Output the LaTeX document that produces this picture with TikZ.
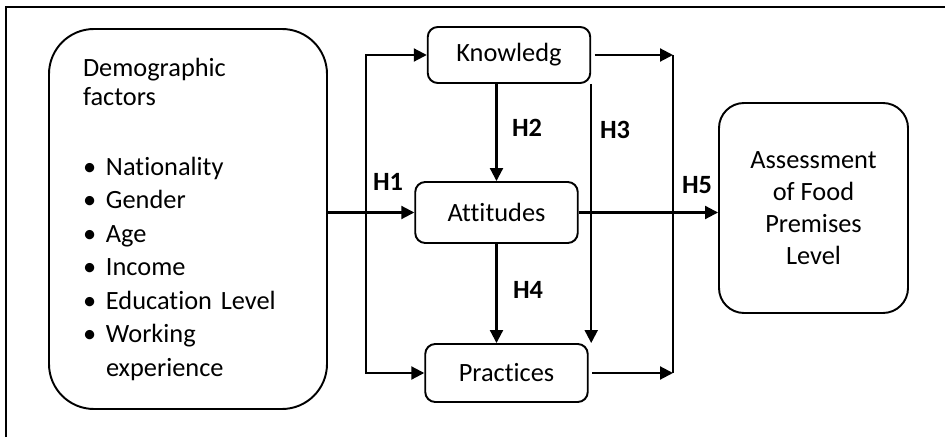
\documentclass[tikz,border=0pt]{standalone}
\usepackage{fontspec}
\setmainfont{Carlito}[Ligatures=NoCommon]
\usetikzlibrary{positioning, arrows.meta}
\tikzset{
every node/.style={font=\fontsize{15pt}{19pt}\selectfont},
rbox/.style={draw, line width=1.1pt, rounded corners=0.2cm, minimum width=3.25cm, minimum height=1.16cm},
bigbox/.style={draw, line width=1.1pt},
hlabel/.style={font=\fontsize{15pt}{19pt}\selectfont\bfseries},
arr/.style={line width=1.2pt, -{Triangle[length=0.26cm, width=0.26cm]}},
}
\newcommand{\itm}{\makebox[0.46cm][l]{\textbullet}}

\begin{document}
\begin{tikzpicture}
    \useasboundingbox (0,0) rectangle (18.9,8.74);

    % outer frame
    \draw[line width=1.4pt] (0.12,0) -- (0.12,8.6) -- (18.9,8.6);

    %left box
    \node[bigbox, rounded corners=0.9cm, minimum width=5.56cm, minimum height=7.6cm,
          inner xsep=0.68cm, text width=4.2cm, align=left, font=\fontsize{15pt}{0.67cm}\selectfont]
          (demo) at (3.76,4.36) {Demographic\\[-0.09cm]
          factors\\[0.73cm]
          \itm Nationality\\
          \itm Gender\\
          \itm Age\\
          \itm Income\\
          \itm Education Level\\
          \itm Working\\
          \hspace*{0.46cm}experience};

    %middle column
    \node[rbox, minimum height=1.12cm] (know) at (10.18,7.64) {Knowledg};
    \node[rbox, minimum height=1.22cm] (att)  at (9.93,4.49)  {Attitudes};
    \node[rbox]                        (prac) at (10.13,1.28) {Practices};

    %right box
    \node[bigbox, rounded corners=0.5cm, minimum width=3.78cm, minimum height=4.2cm,
          align=center, font=\fontsize{15pt}{0.64cm}\selectfont]
          (assess) at (16.27,4.58) {Assessment\\ of Food\\ Premises\\ Level};

    %hypothesis labels
    \node[hlabel] (h1) at (7.76,5.10) {H1};
    \node[hlabel] (h2) at (10.54,6.18) {H2};
    \node[hlabel] (h3) at (12.30,6.14) {H3};
    \node[hlabel] (h4) at (10.56,2.94) {H4};
    \node[hlabel] (h5) at (13.94,5.04) {H5};

    % left bus
    \coordinate (lb) at (7.32,4.49);
    \draw[arr] (demo.east |- att.west) -- (att.west);
    \draw[arr] (lb) |- (know.west);
    \draw[arr] (lb) |- (prac.west);

    % down arrows
    \draw[arr] (att.north |- know.south) -- (att.north);
    \draw[arr] (att.south) -- (att.south |- prac.north);
    \draw[arr] (know.south east) -- (know.south east |- prac.north);

    % right bus
    \coordinate (rb) at (13.46,4.49);
    \draw[line width=1.2pt] (rb |- know.east) -- (rb |- prac.east);
    \draw[arr] ([xshift=2pt]know.east) -- (rb |- know.east);
    \draw[arr] ([xshift=2pt]prac.east) -- (rb |- prac.east);
    \draw[arr] (att.east) -- (assess.west |- att.east);

\end{tikzpicture}
\end{document}
